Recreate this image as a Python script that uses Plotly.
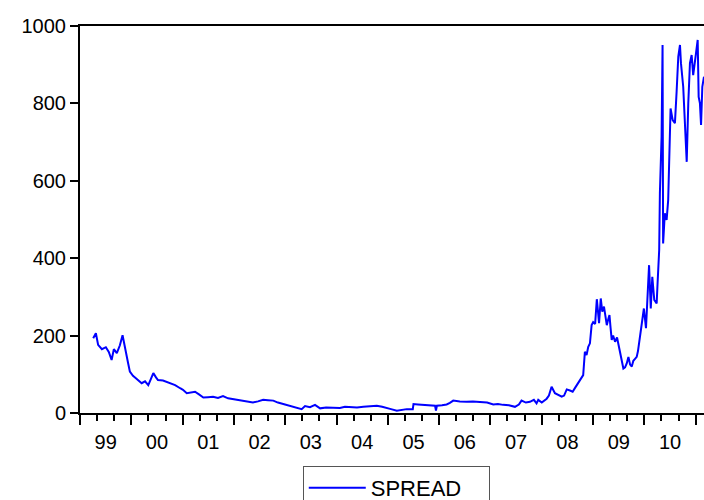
import plotly.graph_objects as go

# Spread series (basis points), sampled dates from 1999 to early 2011
dates = [
    "1999-04-05", "1999-04-24", "1999-05-10", "1999-06-06", "1999-07-04", "1999-07-25",
    "1999-08-14", "1999-08-30", "1999-09-20", "1999-10-12", "1999-10-31", "1999-11-13",
    "1999-11-23", "1999-12-10", "1999-12-22",
    "2000-01-13", "2000-02-03", "2000-02-24", "2000-03-15", "2000-04-08", "2000-05-01",
    "2000-05-20", "2000-06-06", "2000-06-25", "2000-07-09", "2000-08-14", "2000-10-03",
    "2000-11-08", "2000-12-14",
    "2001-01-03", "2001-01-30", "2001-02-22", "2001-03-30", "2001-04-27", "2001-05-28",
    "2001-06-30", "2001-08-05", "2001-09-09", "2001-10-15", "2001-11-20",
    "2002-01-08", "2002-02-13", "2002-04-01", "2002-05-16", "2002-06-21", "2002-07-28",
    "2002-08-31", "2002-10-08", "2002-11-10", "2002-12-18",
    "2003-01-20", "2003-02-27", "2003-04-02", "2003-04-28", "2003-05-22", "2003-06-26",
    "2003-08-01", "2003-09-06", "2003-10-19", "2003-12-10",
    "2004-01-25", "2004-03-01", "2004-04-06", "2004-05-26", "2004-07-10", "2004-08-27",
    "2004-10-14", "2004-11-21", "2004-12-25",
    "2005-01-23", "2005-03-05", "2005-04-12", "2005-05-15", "2005-06-27", "2005-07-02",
    "2005-08-03", "2005-09-10", "2005-10-20", "2005-12-02", "2005-12-09", "2005-12-16",
    "2006-01-21", "2006-02-23", "2006-03-18", "2006-04-11", "2006-05-28", "2006-07-15",
    "2006-08-29", "2006-10-19", "2006-12-08",
    "2007-01-21", "2007-02-23", "2007-04-01", "2007-05-12", "2007-06-24", "2007-07-22",
    "2007-08-10", "2007-09-10", "2007-10-09", "2007-11-06", "2007-11-25", "2007-12-07",
    "2008-01-01", "2008-02-05", "2008-02-21", "2008-03-11", "2008-04-04", "2008-04-25",
    "2008-05-22", "2008-06-08", "2008-06-27", "2008-07-20", "2008-08-08", "2008-08-25",
    "2008-09-17", "2008-10-06", "2008-10-22", "2008-11-03", "2008-11-15", "2008-11-27",
    "2008-12-09", "2008-12-21",
    "2009-01-01", "2009-01-15", "2009-01-27", "2009-02-05", "2009-02-12", "2009-02-24",
    "2009-03-07", "2009-03-19", "2009-03-29", "2009-04-08", "2009-04-17", "2009-04-27",
    "2009-05-05", "2009-05-13", "2009-05-23", "2009-06-06", "2009-06-20", "2009-07-07",
    "2009-07-19", "2009-08-04", "2009-08-16", "2009-08-28", "2009-09-09", "2009-09-21",
    "2009-10-03", "2009-10-14", "2009-10-26", "2009-11-07", "2009-11-16", "2009-11-30",
    "2009-12-16", "2009-12-28",
    "2010-01-12", "2010-01-21", "2010-02-03", "2010-02-15", "2010-02-26", "2010-03-12",
    "2010-03-29", "2010-04-05", "2010-04-16", "2010-04-21", "2010-05-03", "2010-05-10",
    "2010-05-14", "2010-05-26", "2010-06-08", "2010-06-19", "2010-06-26", "2010-07-06",
    "2010-07-21", "2010-08-06", "2010-08-18", "2010-08-30", "2010-09-11", "2010-09-18",
    "2010-10-04", "2010-10-16", "2010-10-29", "2010-11-09", "2010-11-21", "2010-12-03",
    "2010-12-14",
    "2011-01-03", "2011-01-15", "2011-01-22", "2011-01-31", "2011-02-08", "2011-02-17",
    "2011-03-01",
]

spread = [
    193, 206, 176, 165, 170, 158,
    137, 165, 155, 175, 201, 180,
    160, 128, 107,
    96, 90, 84, 77, 82, 72,
    88, 103, 92, 85, 84, 77,
    72, 64,
    60, 51, 53, 55, 48, 40,
    41, 42, 39, 44, 38,
    35, 32, 31, 27, 30, 34,
    33, 32, 27, 23,
    20, 16, 13, 10, 18, 15,
    21, 12, 14, 14,
    13, 16, 15, 14, 16, 17,
    19, 16, 12,
    10, 6, 9, 10, 10, 23,
    22, 21, 20, 19, 6, 19,
    20, 22, 26, 32, 30, 29,
    30, 29, 27,
    22, 23, 21, 20, 16, 22,
    32, 27, 29, 34, 25, 34,
    27, 37, 45, 68, 51, 47,
    42, 45, 61, 58, 55, 65,
    77, 88, 98, 158, 150, 171,
    180, 227,
    235, 230, 294, 260, 232, 296,
    262, 275, 250, 227, 240, 253,
    220, 189, 200, 184, 195, 167,
    150, 115, 118, 128, 145, 125,
    120, 135, 140, 145, 160, 197,
    240, 270,
    219, 301, 382, 270, 352, 292,
    283, 339, 421, 568, 714, 951,
    438, 516, 499, 550, 671, 787,
    757, 749, 830, 921, 951, 904,
    843, 749, 649, 800, 904, 925,
    873,
    929, 964, 817, 800, 744, 843,
    869,
]

y_ticks = [0, 200, 400, 600, 800, 1000]

FONT = "Arial, Liberation Sans, sans-serif"

fig = go.Figure()
fig.add_trace(go.Scatter(
    x=dates,
    y=spread,
    mode="lines",
    name="SPREAD",
    line=dict(color="#0000FF", width=2),
))

fig.update_layout(
    width=704,
    height=500,
    margin=dict(l=80, r=0, t=26, b=87, autoexpand=False),
    paper_bgcolor="white",
    plot_bgcolor="white",
    font=dict(family=FONT, size=20, color="black"),
    showlegend=True,
    legend=dict(
        x=0.357,
        y=-0.137,
        xanchor="left",
        yanchor="top",
        orientation="h",
        itemwidth=57,
        entrywidth=113,
        bordercolor="#555555",
        borderwidth=1,
        bgcolor="white",
        font=dict(family=FONT, size=22, color="black"),
    ),
)

fig.update_xaxes(
    type="date",
    range=["1999-01-01", "2011-03-01"],
    showgrid=False,
    zeroline=False,
    showline=True,
    linecolor="black",
    linewidth=2,
    mirror=True,
    ticks="outside",
    ticklen=10,
    tickwidth=1.5,
    tickcolor="black",
    tick0="1999-01-01",
    dtick="M12",
    tickformat="%y",
    ticklabelmode="period",
    minor=dict(ticks="outside", ticklen=6, tickwidth=1.5, tickcolor="black",
               dtick="M4", tick0="1999-01-01", showgrid=False),
    tickfont=dict(family=FONT, size=20, color="black"),
)

fig.update_yaxes(
    range=[0, 1000],
    tickvals=y_ticks,
    showgrid=False,
    zeroline=False,
    showline=True,
    linecolor="black",
    linewidth=2,
    mirror=False,
    ticks="outside",
    ticklen=8,
    tickwidth=1.5,
    tickcolor="black",
    tickfont=dict(family=FONT, size=20, color="black"),
)

fig.write_html("out.html")
